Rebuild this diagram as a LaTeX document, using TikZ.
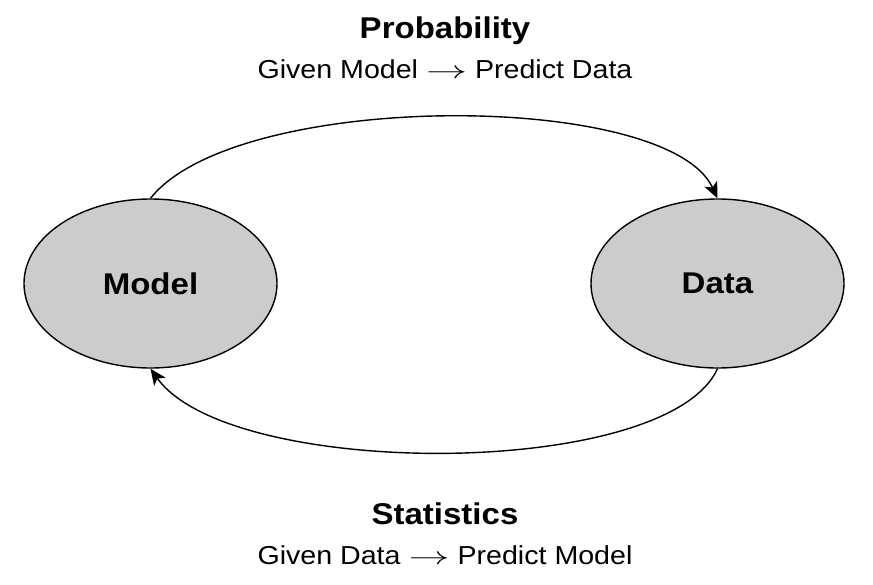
\documentclass[tikz,border=0pt]{standalone}
\usepackage{fontspec}
\setmainfont{Liberation Sans}
\usetikzlibrary{arrows.meta,shapes.geometric}
\newcommand{\wide}[1]{\scalebox{1.1}[1]{#1}}
\newcommand{\myarrow}{\scalebox{1.5}[1]{$\rightarrow$}}
\begin{document}
\begin{tikzpicture}[x=1pt,y=-1pt,
  blob/.style={ellipse,draw=black,line width=1.4pt,fill={rgb,255:red,204;green,204;blue,204},minimum width=253pt,minimum height=169pt,inner sep=0pt,font=\fontsize{30}{36}\selectfont\bfseries},
  ttl/.style={font=\fontsize{30}{36}\selectfont\bfseries,inner sep=0pt,anchor=base},
  sub/.style={font=\fontsize{26}{30}\selectfont,inner sep=0pt,anchor=base},
  link/.style={line width=1.4pt,-{Stealth[length=16pt,width=14pt,inset=4pt]}}]
\useasboundingbox (0,0) rectangle (873,584);
\node[blob] (model) at (150.5,283.5) {\wide{Model}};
\node[blob] (data) at (717.5,283.5) {\wide{Data}};
\node[ttl] (ptitle) at (445,38) {\wide{Probability}};
\node[sub] (psub) at (445,78) {\wide{Given Model \myarrow{} Predict Data}};
\node[ttl] (stitle) at (445,524) {\wide{Statistics}};
\node[sub] (ssub) at (445,564) {\wide{Given Data \myarrow{} Predict Model}};
\draw[link] (model.north) .. controls (236,90) and (667,90) .. (data.north);
\draw[link] (data.south) .. controls (667,480) and (230,480) .. (model.south);
\end{tikzpicture}
\end{document}
